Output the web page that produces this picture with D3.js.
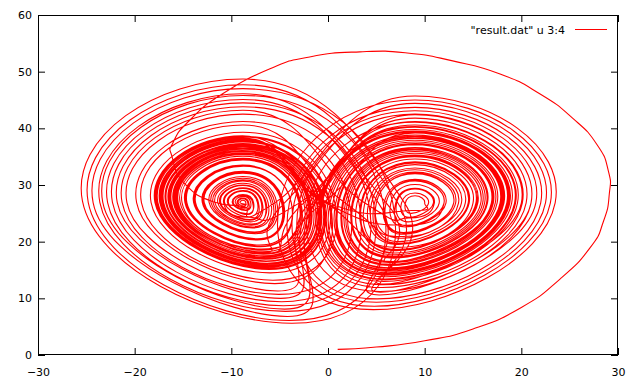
<!DOCTYPE html>
<html lang="en">
<head>
<meta charset="utf-8">
<title>result.dat u 3:4</title>
<script src="https://d3js.org/d3.v7.min.js"></script>
<style>
  body { margin: 0; background: #fff; }
  svg text { font: 11px "DejaVu Sans", Verdana, sans-serif; fill: #000; }
</style>
</head>
<body>
<div id="chart"></div>
<script>
// axis ticks and legend
var xTicks = [-30, -20, -10, 0, 10, 20, 30];
var yTicks = [0, 10, 20, 30, 40, 50, 60];
var legendLabel = '"result.dat" u 3:4';

// first stretch of the trajectory, [y, z]
var transient = [[1.0,1.0],[5.0,1.4],[10.0,2.5],[15.0,4.6],[20.0,8.4],[24.0,13.4],[27.1,18.9],
  [28.5,23.6],[29.1,28.4],[29.0,32.5],[27.8,37.2],[25.3,41.8],[21.9,46.1],[17.8,49.6],
  [12.9,51.9],[8.2,53.3],[3.3,53.5],[-1.9,52.6],[-6.0,50.5],[-10.9,46.1],[-14.2,41.6],
  [-16.0,37.6],[-16.1,34.8],[-14.8,30.2],[-11.8,27.0]];

// after that, one row per turn round a wing, in the order they happen:
// [outer y, top z, inner y, bottom z, y at the bottom]
var left1 = [[-9.1,27.3,-8.5,26.5,-8.7],[-9.3,27.6,-8.3,26.2,-8.7],[-9.6,28.0,-8.0,25.9,-8.6],
  [-9.9,28.3,-7.7,25.5,-8.5],[-10.3,28.9,-7.3,24.9,-8.4],[-10.7,29.4,-6.9,24.4,-8.2],
  [-11.2,30.0,-6.4,23.8,-8.1],[-11.7,30.7,-5.9,23.1,-7.9],[-12.3,31.5,-5.3,22.4,-7.8],
  [-13.0,32.4,-4.6,21.4,-7.5],[-13.8,33.4,-3.8,20.4,-7.3],[-14.6,34.4,-3.0,19.4,-7.1],
  [-15.3,35.4,-2.3,18.5,-6.9],[-16.0,36.3,-1.6,17.5,-6.6],[-16.7,37.2,-0.9,16.6,-6.4],
  [-17.3,38.0,-0.3,15.8,-6.2]];
var right1 = [[12.0,30.7,6.0,22.9,8.1],[13.0,32.0,5.0,21.6,7.8],[14.2,33.6,3.8,20.0,7.4],
  [15.4,35.1,2.6,18.5,7.1],[16.5,36.6,1.5,17.1,6.8],[17.5,37.9,0.5,15.8,6.5],[18.5,39.2,-0.5,14.5,6.2]];
var left2 = [[-15.1,35.1,-2.5,18.7,-6.9],[-15.9,36.1,-1.8,17.8,-6.7],[-16.4,36.8,-1.2,17.0,-6.5],
  [-17.0,37.6,-0.6,16.2,-6.3],[-17.6,38.3,0.0,15.5,-6.2]];
var right2 = [[10.0,28.1,8.0,25.5,8.7],[10.4,28.6,7.6,25.0,8.6],[10.9,29.3,7.1,24.3,8.4],
  [11.5,30.1,6.5,23.5,8.3],[12.2,31.0,5.8,22.6,8.0],[13.0,32.1,5.0,21.5,7.8],[13.8,33.0,4.2,20.6,7.6],
  [14.6,34.1,3.4,19.5,7.3],[15.3,35.0,2.6,18.6,7.1],[16.2,36.2,1.8,17.4,6.8],[17.1,37.3,1.0,16.3,6.6],
  [17.8,38.2,0.2,15.4,6.4],[18.6,39.3,-0.6,14.3,6.1],[19.4,40.3,-1.4,13.3,5.9]];
var left3 = [[-24.3,47.0,6.7,6.8,-4.2],[-25.4,48.7,7.8,5.6,-3.8]];
var right3 = [[20.0,41.1,-2.0,12.5,5.7],[21.0,42.4,-3.0,11.2,5.4]];
var left4 = [[-10.8,29.5,-6.8,24.3,-8.2],[-11.4,30.3,-6.2,23.5,-8.0],[-12.1,31.2,-5.5,22.6,-7.8],
  [-12.9,32.2,-4.7,21.6,-7.6],[-13.9,33.5,-3.8,20.3,-7.3],[-14.7,34.6,-2.9,19.2,-7.0],
  [-15.5,35.6,-2.1,18.2,-6.8],[-16.2,36.5,-1.4,17.3,-6.6],[-16.8,37.3,-0.8,16.5,-6.4],
  [-17.4,38.1,-0.2,15.7,-6.2]];
var right4 = [[15.0,34.6,3.0,19.0,7.2],[16.0,35.9,2.0,17.7,6.9],[16.9,37.1,1.1,16.5,6.6],
  [17.9,38.3,0.2,15.3,6.4],[18.7,39.4,-0.7,14.2,6.1],[19.6,40.6,-1.6,13.0,5.8]];
var left5 = [[-21.8,43.8,4.2,10.0,-4.9],[-22.8,45.1,5.2,8.7,-4.6]];
var right5 = [[21.5,43.1,-3.5,10.6,5.3],[22.5,44.4,-4.5,9.3,5.0]];
var left6 = [[-15.6,35.7,-2.0,18.1,-6.8],[-16.3,36.6,-1.4,17.2,-6.6],[-16.7,37.1,-0.9,16.6,-6.4],
  [-17.2,37.8,-0.4,16.0,-6.3],[-17.7,38.5,0.1,15.3,-6.1],[-18.3,39.3,0.7,14.5,-6.0],
  [-19.3,40.6,1.7,13.2,-5.7]];
var right6 = [[13.5,32.7,4.5,20.9,7.7],[14.5,33.9,3.5,19.7,7.4],[15.5,35.3,2.5,18.4,7.1],
  [16.4,36.4,1.6,17.2,6.8],[17.3,37.6,0.8,16.0,6.5],[18.0,38.5,0.0,15.1,6.3],[18.8,39.5,-0.8,14.1,6.1],
  [20.1,41.2,-2.0,12.4,5.7]];
var left7 = [[-20.8,42.5,3.2,11.3,-5.2],[-22.3,44.5,4.7,9.4,-4.8],[-23.6,46.1,6.0,7.7,-4.4]];
var right7 = [[17.0,37.2,1.0,16.4,6.6],[18.1,38.6,0.0,15.0,6.3],[19.0,39.8,-1.0,13.8,6.0],
  [20.5,41.8,-2.5,11.9,5.6]];
var left8 = [[-15.8,36.0,-1.8,17.8,-6.7],[-16.5,36.9,-1.1,16.9,-6.5],[-17.1,37.7,-0.5,16.1,-6.3],
  [-17.8,38.6,0.2,15.2,-6.1],[-19.8,41.2,2.2,12.6,-5.5],[-21.3,43.2,3.7,10.7,-5.1]];
var right8 = [[11.0,29.4,7.0,24.2,8.4],[12.0,30.8,6.0,22.8,8.1],[13.2,32.3,4.8,21.3,7.7],
  [14.5,34.0,3.5,19.6,7.4],[15.8,35.6,2.2,18.0,7.0],[17.0,37.1,1.0,16.5,6.6],[18.2,38.8,-0.2,14.8,6.2],
  [19.3,40.2,-1.3,13.4,5.9]];
var left9 = [[-23.3,45.8,5.7,8.1,-4.5],[-24.8,47.7,7.2,6.1,-4.0]];
var right9 = [[21.0,42.5,-3.0,11.1,5.4],[22.0,43.7,-4.0,9.9,5.1],[23.0,45.0,-5.0,8.6,4.8],
  [23.5,45.7,-5.5,8.0,4.7]];
var left10 = [[-9.4,27.7,-8.2,26.1,-8.6],[-9.8,28.2,-7.8,25.6,-8.5],[-10.4,29.0,-7.2,24.8,-8.3],
  [-11.1,29.9,-6.5,23.9,-8.1],[-11.9,30.9,-5.7,22.9,-7.9],[-12.8,32.1,-4.8,21.7,-7.6],
  [-13.7,33.3,-3.8,20.5,-7.3],[-14.8,34.7,-2.8,19.1,-7.0],[-15.7,35.9,-1.9,17.9,-6.7],
  [-16.5,36.9,-1.1,16.9,-6.5],[-17.2,37.8,-0.4,16.0,-6.3],[-17.9,38.7,0.2,15.1,-6.1]];

var turns = [left1, right1, left2, right2, left3, right3, left4, right4, left5, right5,
  left6, right6, left7, right7, left8, right8, left9, right9, left10];

// plot box (gnuplot style)
var W = 640, H = 387;
var box = {left: 38, right: 618, top: 15, bottom: 355};

var svg = d3.select("#chart").append("svg")
    .attr("width", W)
    .attr("height", H);

var x = d3.scaleLinear().domain([-30, 30]).range([box.left, box.right]);
var y = d3.scaleLinear().domain([0, 60]).range([box.bottom, box.top]);

// every turn -> bottom, outer side, top, inner side
var pts = transient.slice();
turns.forEach(function(group) {
  group.forEach(function(t) {
    var midY = (t[0] + t[2]) / 2, midZ = (t[1] + t[3]) / 2;
    pts.push([t[4], t[3]], [t[0], midZ], [midY, t[1]], [t[2], midZ]);
  });
});

svg.append("clipPath").attr("id", "clip")
  .append("rect")
    .attr("x", box.left).attr("y", box.top)
    .attr("width", box.right - box.left).attr("height", box.bottom - box.top);

var line = d3.line()
    .x(function(d) { return x(d[0]); })
    .y(function(d) { return y(d[1]); })
    .curve(d3.curveCardinal.tension(-0.6));

svg.append("path")
    .datum(pts)
    .attr("clip-path", "url(#clip)")
    .attr("fill", "none")
    .attr("stroke", "#ff0000")
    .attr("stroke-width", 1.1)
    .attr("d", line);

// axes, ticks pointing inward on all four sides
var tick = 7;
svg.append("g")
    .attr("transform", "translate(0," + box.bottom + ")")
    .call(d3.axisBottom(x).tickValues(xTicks).tickSize(-tick).tickPadding(13));
svg.append("g")
    .attr("transform", "translate(0," + box.top + ")")
    .call(d3.axisTop(x).tickValues(xTicks).tickSize(-tick).tickFormat(""));
svg.append("g")
    .attr("transform", "translate(" + box.left + ",0)")
    .call(d3.axisLeft(y).tickValues(yTicks).tickSize(-tick).tickPadding(6));
svg.append("g")
    .attr("transform", "translate(" + box.right + ",0)")
    .call(d3.axisRight(y).tickValues(yTicks).tickSize(-tick).tickFormat(""));

svg.selectAll(".domain").remove();
svg.selectAll(".tick line").attr("stroke", "#000");
svg.selectAll(".tick text").attr("fill", "#000").style("font-size", "11px")
    .style("font-family", '"DejaVu Sans", Verdana, sans-serif');

svg.append("rect")
    .attr("x", box.left + 0.5).attr("y", box.top + 0.5)
    .attr("width", box.right - box.left - 1).attr("height", box.bottom - box.top - 1)
    .attr("fill", "none")
    .attr("stroke", "#000");

// key
svg.append("text")
    .attr("x", 565).attr("y", 34)
    .attr("text-anchor", "end")
    .text(legendLabel);
svg.append("line")
    .attr("x1", 575).attr("x2", 607)
    .attr("y1", 29.5).attr("y2", 29.5)
    .attr("stroke", "#ff0000");
</script>
</body>
</html>
